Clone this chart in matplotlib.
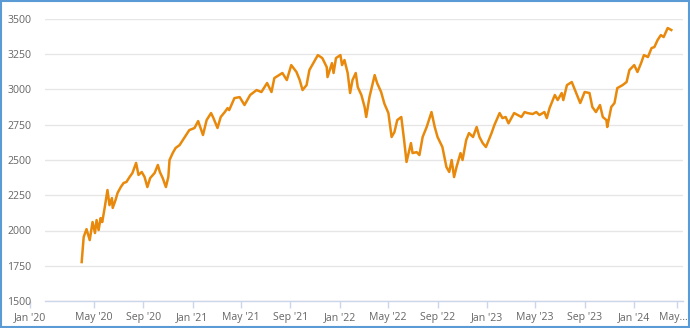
import pandas as pd
import matplotlib
matplotlib.use("Agg")
import matplotlib.pyplot as plt
import matplotlib.transforms as mtransforms
from matplotlib.patches import Rectangle

plt.rcParams["font.family"] = ["Open Sans", "DejaVu Sans"]

# values
DATES = [
    "2020-04-01", "2020-04-06", "2020-04-13", "2020-04-21", "2020-04-28", "2020-05-04",
    "2020-05-08", "2020-05-13", "2020-05-18", "2020-05-22", "2020-05-28", "2020-06-04",
    "2020-06-09", "2020-06-15", "2020-06-17", "2020-06-24", "2020-06-29", "2020-07-07",
    "2020-07-14", "2020-07-21", "2020-07-29", "2020-08-05", "2020-08-14", "2020-08-20",
    "2020-08-28", "2020-09-04", "2020-09-11", "2020-09-18", "2020-09-29", "2020-10-07",
    "2020-10-12", "2020-10-19", "2020-10-27", "2020-11-02", "2020-11-05", "2020-11-13",
    "2020-11-20", "2020-11-30", "2020-12-24", "2021-01-06", "2021-01-15", "2021-01-27",
    "2021-02-05", "2021-02-16", "2021-02-22", "2021-03-04", "2021-03-12", "2021-03-22",
    "2021-03-29", "2021-04-02", "2021-04-15", "2021-04-28", "2021-05-10", "2021-05-24",
    "2021-06-09", "2021-06-21", "2021-07-05", "2021-07-16", "2021-07-23", "2021-08-12",
    "2021-08-23", "2021-09-03", "2021-09-16", "2021-09-24", "2021-10-01", "2021-10-11",
    "2021-10-18", "2021-11-05", "2021-11-08", "2021-11-19", "2021-11-30", "2021-12-02",
    "2021-12-13", "2021-12-17", "2021-12-23", "2022-01-03", "2022-01-07", "2022-01-13",
    "2022-01-21", "2022-01-27", "2022-02-02", "2022-02-10", "2022-02-15", "2022-02-24",
    "2022-03-04", "2022-03-08", "2022-03-16", "2022-03-29", "2022-04-04", "2022-04-14",
    "2022-04-22", "2022-05-02", "2022-05-10", "2022-05-17", "2022-05-24", "2022-06-03",
    "2022-06-10", "2022-06-16", "2022-06-27", "2022-07-01", "2022-07-11", "2022-07-18",
    "2022-07-26", "2022-08-05", "2022-08-17", "2022-08-25", "2022-09-01", "2022-09-13",
    "2022-09-23", "2022-09-30", "2022-10-06", "2022-10-12", "2022-10-18", "2022-10-28",
    "2022-11-02", "2022-11-11", "2022-11-18", "2022-11-28", "2022-12-07", "2022-12-14",
    "2022-12-22", "2022-12-30", "2023-01-13", "2023-01-20", "2023-02-02", "2023-02-09",
    "2023-02-17", "2023-02-24", "2023-03-10", "2023-03-28", "2023-04-05", "2023-04-12",
    "2023-04-25", "2023-05-04", "2023-05-12", "2023-05-24", "2023-05-30", "2023-06-06",
    "2023-06-19", "2023-06-26", "2023-07-06", "2023-07-10", "2023-07-19", "2023-07-31",
    "2023-08-08", "2023-08-21", "2023-09-01", "2023-09-13", "2023-09-20", "2023-09-29",
    "2023-10-09", "2023-10-16", "2023-10-25", "2023-10-27", "2023-11-06", "2023-11-14",
    "2023-11-21", "2023-12-04", "2023-12-14", "2023-12-21", "2024-01-02", "2024-01-10",
    "2024-01-19", "2024-01-26", "2024-02-05", "2024-02-14", "2024-02-21", "2024-02-29",
    "2024-03-08", "2024-03-15", "2024-03-25", "2024-04-03",
]
VALUES = [
    1776, 1954, 2010, 1932, 2060, 1982,
    2074, 2003, 2088, 2060, 2160, 2287,
    2180, 2230, 2160, 2216, 2266, 2308,
    2337, 2344, 2380, 2408, 2479, 2394,
    2415, 2380, 2308, 2372, 2408, 2465,
    2415, 2372, 2308, 2380, 2500, 2550,
    2585, 2606, 2712, 2727, 2776, 2677,
    2783, 2833, 2797, 2727, 2805, 2840,
    2868, 2854, 2939, 2946, 2890, 2961,
    2996, 2982, 3046, 2982, 3081, 3117,
    3067, 3173, 3124, 3067, 2996, 3031,
    3138, 3230, 3244, 3223, 3159, 3088,
    3187, 3117, 3223, 3244, 3173, 3209,
    3117, 2975, 3067, 3117, 3017, 2961,
    2876, 2805, 2946, 3102, 3046, 2982,
    2900, 2833, 2663, 2698, 2783, 2805,
    2641, 2486, 2620, 2549, 2556, 2535,
    2663, 2734, 2840, 2734, 2663, 2592,
    2450, 2415, 2500, 2379, 2450, 2549,
    2500, 2641, 2691, 2663, 2734, 2663,
    2620, 2592, 2691, 2748, 2833, 2797,
    2805, 2760, 2833, 2805, 2840, 2833,
    2826, 2840, 2819, 2840, 2797, 2869,
    2961, 2925, 2975, 2925, 3031, 3053,
    2996, 2904, 2982, 2975, 2876, 2840,
    2890, 2805, 2783, 2734, 2876, 2904,
    3010, 3031, 3053, 3138, 3173, 3124,
    3187, 3244, 3230, 3294, 3301, 3351,
    3386, 3372, 3436, 3422,
]

TICK_DATES = ["2020-01-01", "2020-05-01", "2020-09-01", "2021-01-01", "2021-05-01",
              "2021-09-01", "2022-01-01", "2022-05-01", "2022-09-01", "2023-01-01",
              "2023-05-01", "2023-09-01", "2024-01-01", "2024-05-01"]
TICK_LABELS = ["Jan '20", "May '20", "Sep '20", "Jan '21", "May '21", "Sep '21",
               "Jan '22", "May '22", "Sep '22", "Jan '23", "May '23", "Sep '23",
               "Jan '24", "May\u2026"]
Y_TICKS = [1500, 1750, 2000, 2250, 2500, 2750, 3000, 3250, 3500]

LINE_COLOR = "#e8890c"
LABEL_COLOR = "#666666"

dates = pd.to_datetime(DATES)
fig = plt.figure(figsize=(6.9, 3.28), dpi=100)
ax = fig.add_axes([45 / 690, 1 - 301 / 328, 638 / 690, 282 / 328])

ax.plot(dates, VALUES, color=LINE_COLOR, lw=1.8, solid_joinstyle="round")

ax.set_xlim(pd.Timestamp("2020-01-01"), pd.Timestamp("2024-05-02"))
ax.set_ylim(1500, 3500)
ax.set_yticks(Y_TICKS)
ax.set_xticks(pd.to_datetime(TICK_DATES))
ax.set_xticklabels(TICK_LABELS)

ax.grid(axis="y", color="#e6e6e6", lw=1)
ax.set_axisbelow(True)
for side in ["top", "right", "left"]:
    ax.spines[side].set_visible(False)
ax.spines["bottom"].set_color("#ccd6eb")
ax.spines["bottom"].set_linewidth(1)

ax.tick_params(axis="y", length=0, pad=10, labelsize=7.6, labelcolor=LABEL_COLOR)
ax.tick_params(axis="x", length=5, width=1, color="#ccd6eb", pad=3,
               labelsize=7.6, labelcolor=LABEL_COLOR)

# nudge first/last x ticks like the original renderer does
fig.canvas.draw()
xticks = ax.xaxis.get_major_ticks()
for tick, dx in [(xticks[0], -15), (xticks[-1], -6)]:
    off = mtransforms.ScaledTranslation(dx / 100, 0, fig.dpi_scale_trans)
    tick.tick1line.set_transform(tick.tick1line.get_transform() + off)
    tick.tick1line.set_clip_on(False)
    tick.label1.set_transform(tick.label1.get_transform() + off)
# keep the truncated last label inside the frame
xticks[-1].label1.set_transform(
    xticks[-1].label1.get_transform()
    + mtransforms.ScaledTranslation(-3 / 100, 0, fig.dpi_scale_trans))

fig.patches.append(Rectangle((0.001, 0.002), 0.997, 0.995, transform=fig.transFigure,
                             fill=False, edgecolor="#5b9bd5", lw=1.5))

fig.savefig("out.png", dpi=100, facecolor="white")
